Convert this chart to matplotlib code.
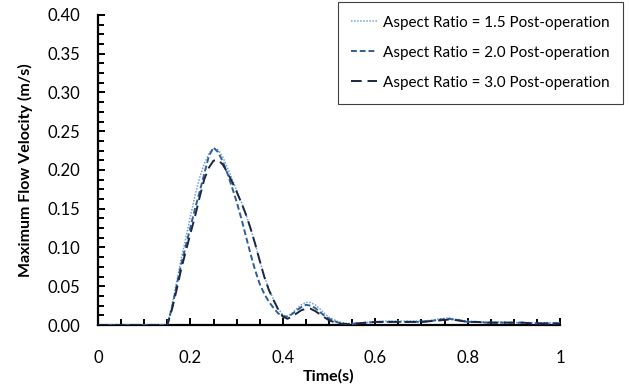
import matplotlib
matplotlib.use("Agg")
import matplotlib.pyplot as plt
from matplotlib.ticker import MultipleLocator, AutoMinorLocator, FormatStrFormatter

plt.rcParams['font.family'] = ['Lato', 'DejaVu Sans']

# sampled time (s)
t = [0.0, 0.05, 0.10, 0.14, 0.15, 0.16, 0.17, 0.18, 0.19, 0.20, 0.21, 0.22, 0.23,
     0.24, 0.25, 0.26, 0.27, 0.28, 0.29, 0.30, 0.31, 0.32, 0.33, 0.34, 0.35, 0.36,
     0.37, 0.38, 0.39, 0.40, 0.41, 0.42, 0.43, 0.44, 0.45, 0.46, 0.47, 0.48, 0.49,
     0.50, 0.52, 0.54, 0.56, 0.58, 0.60, 0.62, 0.64, 0.66, 0.68, 0.70, 0.72, 0.74,
     0.76, 0.78, 0.80, 0.82, 0.84, 0.86, 0.88, 0.90, 0.92, 0.94, 0.96, 0.98, 1.0]

# max flow velocity (m/s) for each aspect ratio
v_ar15 = [0.0, 0.0, 0.0, 0.0, 0.0, 0.025, 0.055, 0.085, 0.112, 0.140, 0.167, 0.190, 0.208,
          0.221, 0.228, 0.226, 0.217, 0.203, 0.189, 0.174, 0.159, 0.143, 0.125, 0.105, 0.083, 0.063,
          0.046, 0.033, 0.021, 0.013, 0.011, 0.015, 0.021, 0.026, 0.029, 0.029, 0.026, 0.021, 0.015,
          0.010, 0.004, 0.002, 0.002, 0.003, 0.004, 0.005, 0.005, 0.005, 0.005, 0.005, 0.006, 0.008,
          0.009, 0.007, 0.005, 0.004, 0.004, 0.004, 0.004, 0.003, 0.003, 0.003, 0.003, 0.003, 0.003]
v_ar20 = [0.0, 0.0, 0.0, 0.0, 0.0, 0.022, 0.050, 0.078, 0.102, 0.126, 0.150, 0.172, 0.195,
          0.218, 0.229, 0.223, 0.211, 0.196, 0.178, 0.159, 0.138, 0.115, 0.092, 0.071, 0.053, 0.040,
          0.030, 0.022, 0.015, 0.011, 0.011, 0.014, 0.019, 0.023, 0.026, 0.025, 0.022, 0.017, 0.012,
          0.008, 0.003, 0.001, 0.002, 0.003, 0.004, 0.004, 0.004, 0.004, 0.004, 0.004, 0.005, 0.007,
          0.008, 0.006, 0.004, 0.004, 0.003, 0.003, 0.003, 0.003, 0.003, 0.002, 0.002, 0.002, 0.002]
v_ar30 = [0.0, 0.0, 0.0, 0.0, 0.0, 0.020, 0.045, 0.072, 0.095, 0.118, 0.140, 0.165, 0.188,
          0.203, 0.212, 0.213, 0.207, 0.197, 0.185, 0.172, 0.158, 0.143, 0.125, 0.105, 0.083, 0.062,
          0.045, 0.032, 0.020, 0.011, 0.008, 0.011, 0.015, 0.019, 0.021, 0.021, 0.018, 0.014, 0.010,
          0.006, 0.002, 0.001, 0.002, 0.003, 0.004, 0.004, 0.004, 0.004, 0.004, 0.004, 0.005, 0.006,
          0.007, 0.006, 0.004, 0.004, 0.003, 0.003, 0.003, 0.003, 0.003, 0.002, 0.002, 0.002, 0.002]

labels = ['Aspect Ratio = 1.5 Post-operation',
          'Aspect Ratio = 2.0 Post-operation',
          'Aspect Ratio = 3.0 Post-operation']

fig = plt.figure(figsize=(6.29, 3.85), dpi=100)
ax = fig.add_axes([98/629, 60/385, 462/629, 310/385])

ax.plot(t, v_ar15, color='#6f9fd8', lw=1.1, linestyle=(0, (1, 1)), label=labels[0], zorder=3)
ax.plot(t, v_ar20, color='#2f5f9a', lw=1.4, linestyle=(0, (3, 1.5)), label=labels[1], zorder=3)
ax.plot(t, v_ar30, color='#1c2740', lw=1.4, linestyle=(0, (5.5, 3)), label=labels[2], zorder=3)

ax.set_xlim(0, 1)
ax.set_ylim(0, 0.40)
ax.spines['top'].set_visible(False)
ax.spines['right'].set_visible(False)
ax.spines['left'].set_linewidth(1.6)
ax.spines['bottom'].set_linewidth(1.6)


def time_fmt(x, pos):
    if abs(x) < 1e-9:
        return '0'
    if abs(x - 1) < 1e-9:
        return '1'
    return f'{x:.1f}'


ax.xaxis.set_major_locator(MultipleLocator(0.2))
ax.xaxis.set_minor_locator(AutoMinorLocator(4))
ax.yaxis.set_major_locator(MultipleLocator(0.05))
ax.yaxis.set_minor_locator(AutoMinorLocator(4))
ax.yaxis.set_major_formatter(FormatStrFormatter('%.2f'))
ax.xaxis.set_major_formatter(time_fmt)
ax.tick_params(which='both', direction='in', width=1.4, labelsize=12)
ax.tick_params(which='major', length=5)
ax.tick_params(which='minor', length=4)
ax.tick_params(axis='x', pad=18)
ax.tick_params(axis='y', pad=13)

ax.set_xlabel('Time(s)', fontsize=11.5, fontweight='bold', labelpad=2)
ax.set_ylabel('Maximum Flow Velocity (m/s)', fontsize=11.5, fontweight='bold', labelpad=10)

leg = fig.legend(loc='upper right', bbox_to_anchor=(623/629, 1 - 2/385), fontsize=11,
                 handlelength=1.7, handletextpad=0.35, labelspacing=1.05,
                 borderpad=0.9, borderaxespad=0, fancybox=False, framealpha=1)
leg.get_frame().set_edgecolor('#404040')
leg.get_frame().set_linewidth(0.8)

fig.savefig('out.png', dpi=100)
